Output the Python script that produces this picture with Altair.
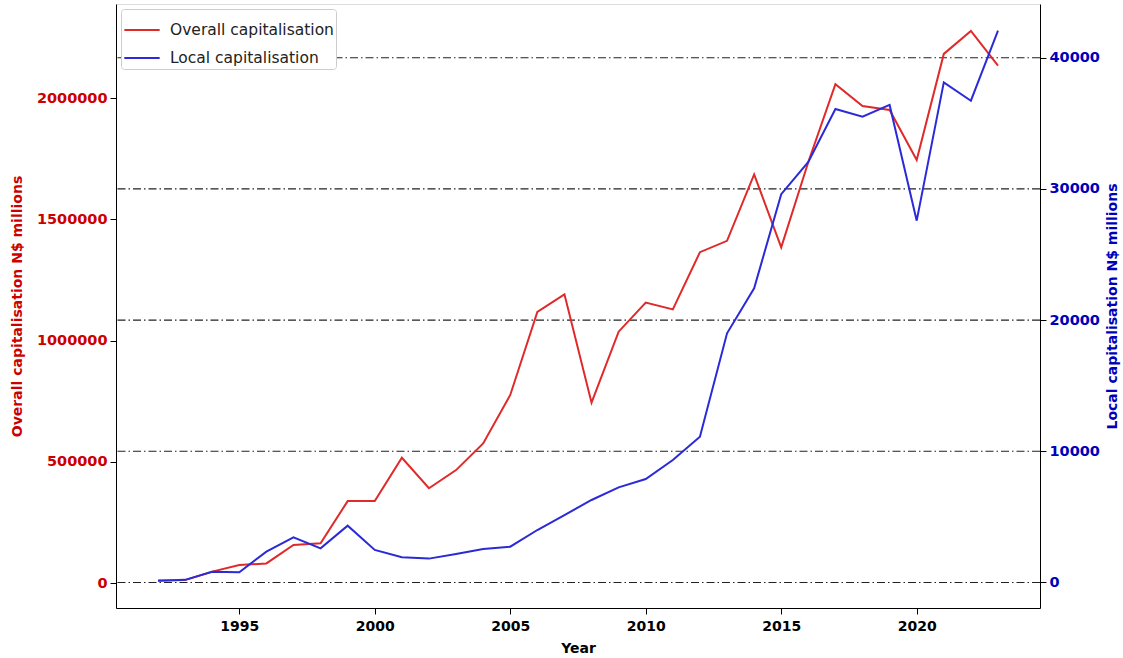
import altair as alt
import pandas as pd

years = [1992, 1993, 1994, 1995, 1996, 1997, 1998, 1999, 2000, 2001, 2002,
         2003, 2004, 2005, 2006, 2007, 2008, 2009, 2010, 2011, 2012, 2013,
         2014, 2015, 2016, 2017, 2018, 2019, 2020, 2021, 2022, 2023]
overall = [10000, 12000, 47000, 74000, 81000, 157000, 164000, 338000, 338000,
           517000, 391000, 466000, 576000, 776000, 1119000, 1191000, 744000,
           1037000, 1157000, 1129000, 1365000, 1412000, 1686000, 1385000,
           1737000, 2058000, 1968000, 1952000, 1745000, 2183000, 2278000, 2135000]
local = [140, 200, 820, 780, 2350, 3440, 2600, 4330, 2480, 1920, 1820, 2170,
         2550, 2730, 4000, 5140, 6290, 7250, 7890, 9340, 11110, 18990, 22420,
         29600, 32050, 36090, 35500, 36400, 27580, 38120, 36720, 42060]
grid_values = [0, 10000, 20000, 30000, 40000]
x_ticks = [1995, 2000, 2005, 2010, 2015, 2020]
left_ticks = [0, 500000, 1000000, 1500000, 2000000]
series_names = ["Overall capitalisation", "Local capitalisation"]
series_colors = ["#e02a2a", "#2a2ad8"]

df = pd.DataFrame({"year": years, "overall": overall, "local": local})
grid_df = pd.DataFrame({"g": grid_values})

FONT = "DejaVu Sans"
x_enc = alt.X("year:Q",
              scale=alt.Scale(domain=[1990.45, 2024.55], nice=False, zero=False),
              axis=alt.Axis(values=x_ticks, format="d", title="Year", grid=False,
                            labelFontSize=14, labelFontWeight="bold", labelColor="black",
                            titleFontSize=14, titleFontWeight="bold", titleColor="black",
                            tickColor="black", domainColor="black", tickSize=6,
                            labelPadding=5, titlePadding=8, labelFlush=False))

color_enc = alt.Color("series:N",
                      scale=alt.Scale(domain=series_names, range=series_colors),
                      legend=alt.Legend(title=None, orient="top-left", offset=5,
                                        labelFontSize=15.5, labelFont=FONT,
                                        labelColor="#222", labelLimit=0,
                                        symbolType="stroke",
                                        symbolSize=1250, symbolStrokeWidth=2.2,
                                        strokeColor="#cccccc", fillColor="white",
                                        padding=2, rowPadding=-8, labelOffset=9,
                                        cornerRadius=3))

right_scale = alt.Scale(domain=[-1944, 44093], nice=False, zero=False)

rules = alt.Chart(grid_df).mark_rule(color="#222", strokeWidth=1.1,
                                     strokeDash=[8, 3, 1.5, 3]).encode(
    y=alt.Y("g:Q", scale=right_scale, axis=None)
)

red = alt.Chart(df).transform_calculate(series="'Overall capitalisation'").mark_line(
    strokeWidth=2).encode(
    x=x_enc,
    y=alt.Y("overall:Q",
            scale=alt.Scale(domain=[-103000, 2389000], nice=False, zero=False),
            axis=alt.Axis(orient="left", values=left_ticks, format="d",
                          title="Overall capitalisation N$ millions", grid=False,
                          labelFontSize=14.5, labelFontWeight="bold", labelColor="#cc0000",
                          titleFontSize=14, titleFontWeight="bold", titleColor="#cc0000",
                          tickColor="black", domainColor="black", tickSize=6,
                          labelPadding=3, titlePadding=12)),
    color=color_enc
)

blue = alt.Chart(df).transform_calculate(series="'Local capitalisation'").mark_line(
    strokeWidth=2).encode(
    x=x_enc,
    y=alt.Y("local:Q", scale=right_scale,
            axis=alt.Axis(orient="right", values=grid_values, format="d",
                          title="Local capitalisation N$ millions", grid=False,
                          labelFontSize=14.5, labelFontWeight="bold", labelColor="#0000bb",
                          titleFontSize=14, titleFontWeight="bold", titleColor="#0000bb",
                          titleAngle=270, tickColor="black", domainColor="black",
                          tickSize=6, labelPadding=3, titlePadding=20)),
    color=color_enc
)

chart = alt.layer(rules, red, blue).resolve_scale(y="independent").properties(
    width=924, height=604,
    autosize=alt.AutoSizeParams(type="none"),
    padding={"left": 116, "top": 4, "right": 83, "bottom": 50},
    background="white"
).configure_view(stroke="black", strokeWidth=1.3).configure(font=FONT)

chart.save("out.html", embed_options={"renderer": "svg", "actions": False})
